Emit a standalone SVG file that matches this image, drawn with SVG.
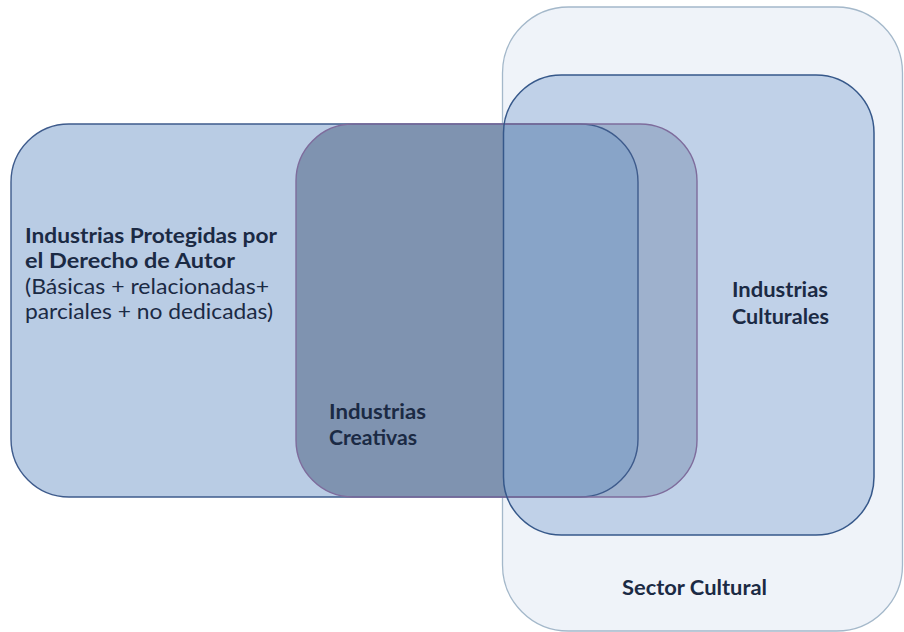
<svg xmlns="http://www.w3.org/2000/svg" width="904" height="632" viewBox="0 0 904 632">
<style>
.t{font-family:Lato,"Open Sans","Liberation Sans",sans-serif;fill:#1b2a44;font-size:21px}
.b{font-weight:bold}
.r{font-weight:normal}
</style>
<defs>
<rect id="sec" x="502.5" y="7" width="400" height="624" rx="66" ry="66"/>
<rect id="cul" x="503.5" y="75" width="370.5" height="460" rx="58" ry="58"/>
<rect id="pro" x="11" y="124" width="627" height="373" rx="58" ry="58"/>
<rect id="cre" x="296" y="124" width="401" height="373" rx="57" ry="57"/>
<clipPath id="cpPro"><use href="#pro"/></clipPath>
<clipPath id="cpCul"><use href="#cul"/></clipPath>
</defs>
<rect width="904" height="632" fill="#ffffff"/>
<g id="sector-cultural">
<use href="#sec" fill="#eff3f9" stroke="#a4b8ca" stroke-width="1.3"/>
</g>
<g id="industrias-culturales-fill">
<use href="#cul" fill="#c0d1e8"/>
</g>
<g id="industrias-protegidas-fill">
<use href="#pro" fill="#b9cce4"/>
</g>
<g id="industrias-creativas-fill">
<use href="#cre" fill="#9eb1cd"/>
<use href="#cre" fill="#7f93b0" clip-path="url(#cpPro)"/>
<use href="#pro" fill="#88a4c8" clip-path="url(#cpCul)"/>
</g>
<g id="outlines">
<use href="#pro" fill="none" stroke="#3e5b8c" stroke-width="1.4"/>
<use href="#cre" fill="none" stroke="#7e6c9c" stroke-width="1.4"/>
<use href="#cul" fill="none" stroke="#36588a" stroke-width="1.5"/>
</g>
<g id="connectors"></g>
<g id="label-protegidas">
<text class="t b" x="25" y="243" textLength="252" lengthAdjust="spacingAndGlyphs">Industrias Protegidas por</text>
<text class="t b" x="25" y="268" textLength="210" lengthAdjust="spacingAndGlyphs">el Derecho de Autor</text>
<text class="t r" x="25" y="294" textLength="244" lengthAdjust="spacingAndGlyphs">(Básicas + relacionadas+</text>
<text class="t r" x="25" y="319" textLength="248" lengthAdjust="spacingAndGlyphs">parciales + no dedicadas)</text>
</g>
<g id="label-creativas">
<text class="t b" x="329" y="419" textLength="97" lengthAdjust="spacingAndGlyphs">Industrias</text>
<text class="t b" x="329" y="445" textLength="88" lengthAdjust="spacingAndGlyphs">Creativas</text>
</g>
<g id="label-culturales">
<text class="t b" x="732" y="297" textLength="96" lengthAdjust="spacingAndGlyphs">Industrias</text>
<text class="t b" x="732" y="324" textLength="97" lengthAdjust="spacingAndGlyphs">Culturales</text>
</g>
<g id="label-sector">
<text class="t b" x="622" y="595" textLength="145" lengthAdjust="spacingAndGlyphs">Sector Cultural</text>
</g>
</svg>
